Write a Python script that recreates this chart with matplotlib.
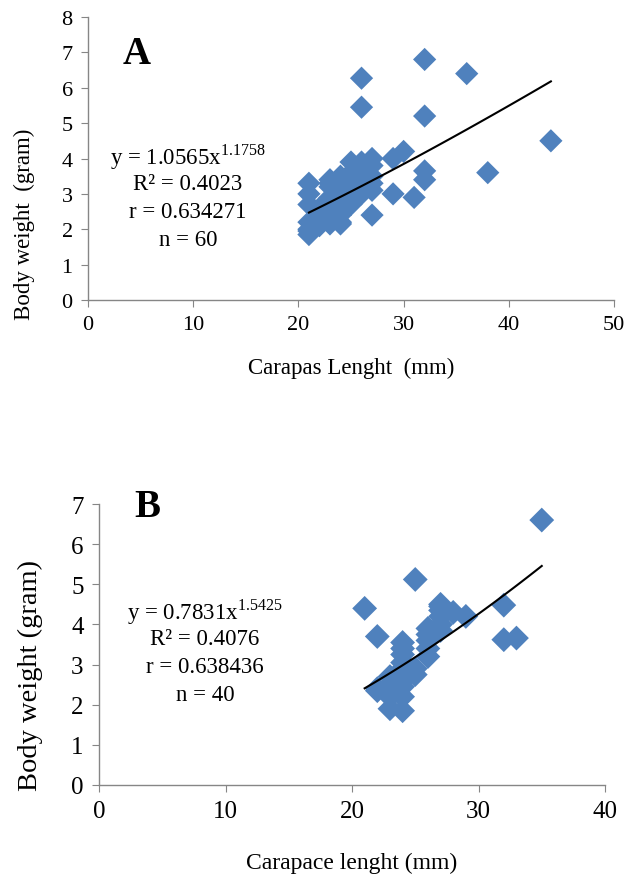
import numpy as np
import matplotlib
matplotlib.use("Agg")
import matplotlib.pyplot as plt

plt.rcParams['font.family'] = ['Liberation Serif', 'DejaVu Serif']
plt.rcParams['mathtext.fontset'] = 'custom'
plt.rcParams['mathtext.rm'] = 'Liberation Serif'

# ---------------- Panel A data ----------------
a_x = [21, 21, 21, 21, 21, 21, 21,
       22, 22, 22, 22, 22,
       23, 23, 23, 23, 23, 23, 23, 23,
       24, 24, 24, 24, 24, 24, 24, 24, 24,
       25, 25, 25, 25, 25, 25,
       26, 26, 26, 26, 26, 26, 26, 26,
       27, 27, 27, 27, 27, 27,
       29, 29, 30, 31,
       32, 32, 32, 32,
       36, 38, 44]
a_y = [3.3, 3.0, 2.7, 2.2, 2.0, 1.85, 1.95,
       2.1, 2.3, 2.5, 2.6, 2.2,
       3.4, 3.3, 3.2, 2.9, 2.6, 2.4, 2.2, 2.15,
       3.5, 3.4, 3.3, 3.0, 2.8, 2.5, 2.4, 2.2, 2.15,
       3.9, 3.6, 3.3, 3.0, 3.2, 2.7,
       6.27, 5.45, 3.9, 3.7, 3.5, 3.2, 3.0, 3.4,
       4.0, 3.8, 3.5, 3.3, 3.1, 2.4,
       4.0, 3.0, 4.2, 2.9,
       6.8, 5.2, 3.65, 3.4,
       6.4, 3.6, 4.5]
a_text = ["y = 1.0565x$^{\\mathrm{1.1758}}$", "R\u00b2 = 0.4023", "r = 0.634271", "n = 60"]
a_xticks = [0, 10, 20, 30, 40, 50]
a_yticks = [0, 1, 2, 3, 4, 5, 6, 7, 8]

# ---------------- Panel B data ----------------
b_x = [21,
       22, 22, 22,
       23, 23, 23, 23, 23, 23,
       24, 24, 24, 24, 24, 24, 24, 24, 24, 24,
       25, 25, 25,
       26, 26, 26, 26, 26,
       27, 27, 27, 27, 27, 27,
       28, 29, 32, 32, 33, 35]
b_y = [4.4,
       3.7, 2.35, 2.4,
       2.7, 2.5, 2.4, 2.2, 1.9, 2.3,
       3.55, 3.4, 3.25, 3.05, 2.9, 2.7, 2.45, 2.2, 1.85, 2.6,
       5.12, 2.75, 2.9,
       3.9, 3.6, 3.2, 3.75, 3.4,
       4.45, 4.35, 4.2, 4.0, 3.85, 4.5,
       4.3, 4.2, 4.48, 3.62, 3.66, 6.6]
b_text = ["y = 0.7831x$^{\\mathrm{1.5425}}$", "R\u00b2 = 0.4076", "r = 0.638436", "n = 40"]
b_xticks = [0, 10, 20, 30, 40]
b_yticks = [0, 1, 2, 3, 4, 5, 6, 7]

BLUE = '#4F81BD'
GRAY = '#868686'

W, H = 634, 879
fig = plt.figure(figsize=(W / 100, H / 100), dpi=100)


def box(l, t, r, b):
    return [l / W, 1 - b / H, (r - l) / W, (b - t) / H]


def style(ax, xt, yt, fs):
    for s in ['top', 'right']:
        ax.spines[s].set_visible(False)
    for s in ['left', 'bottom']:
        ax.spines[s].set_color(GRAY)
        ax.spines[s].set_linewidth(1.0)
    ax.set_xticks(xt)
    ax.set_yticks(yt)
    ax.set_xlim(xt[0], xt[-1])
    ax.set_ylim(yt[0], yt[-1])
    ax.tick_params(direction='out', length=5, color=GRAY, labelsize=fs, pad=6)


def power_fit(x, y):
    x = np.asarray(x, float)
    y = np.asarray(y, float)
    b, la = np.polyfit(np.log(x), np.log(y), 1)
    xs = np.linspace(x.min(), x.max(), 100)
    return xs, np.exp(la) * xs ** b


# Panel A
axA = fig.add_axes(box(88, 18, 614, 301))
style(axA, a_xticks, a_yticks, 16)
axA.scatter(a_x, a_y, marker='D', s=140, color=BLUE, edgecolors='none', zorder=2)
xs, ys = power_fit(a_x, a_y)
axA.plot(xs, ys, color='black', lw=1.5, zorder=3)
axA.set_xlabel('Carapas Lenght  (mm)', fontsize=16.5, labelpad=16)
axA.set_ylabel('Body weight  (gram)', fontsize=16.5)
axA.yaxis.set_label_coords(-0.10, 0.27)
for i, t in enumerate(a_text):
    fig.text(188 / W, 1 - (157 + 28 * i) / H, t, fontsize=16.5, ha='center', va='center')
fig.text(137 / W, 1 - 54 / H, 'A', fontsize=28, fontweight='bold', ha='center', va='center')

# Panel B
axB = fig.add_axes(box(99, 505, 605, 786))
style(axB, b_xticks, b_yticks, 18)
axB.scatter(b_x, b_y, marker='D', s=160, color=BLUE, edgecolors='none', zorder=2)
xs, ys = power_fit(b_x, b_y)
axB.plot(xs, ys, color='black', lw=1.5, zorder=3)
axB.set_xlabel('Carapace lenght (mm)', fontsize=17, labelpad=21)
axB.set_ylabel('Body weight (gram)', fontsize=20.5)
axB.yaxis.set_label_coords(-0.111, 0.395)
for i, t in enumerate(b_text):
    fig.text(205 / W, 1 - (612 + 28 * i) / H, t, fontsize=16.5, ha='center', va='center')
fig.text(147 / W, 1 - 508 / H, 'B', fontsize=28, fontweight='bold', ha='center', va='center')

fig.savefig('out.png', dpi=100)
